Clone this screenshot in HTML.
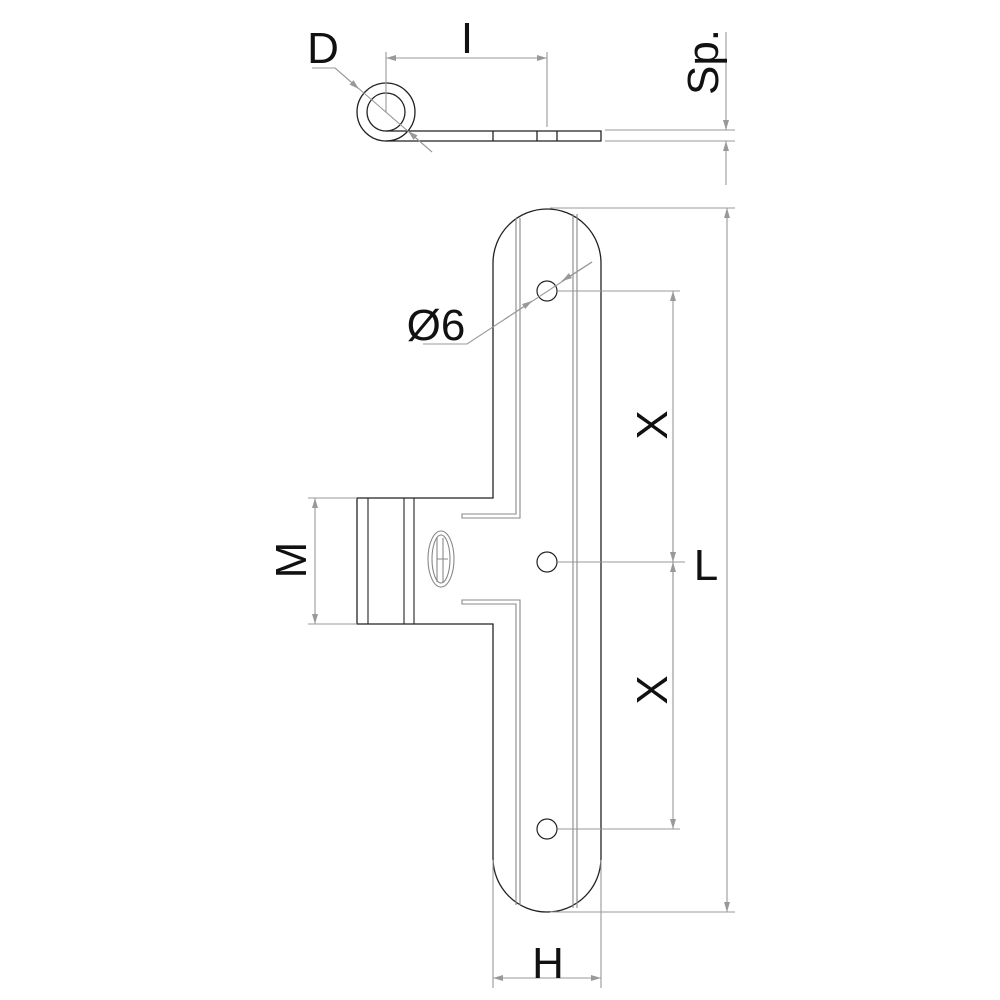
<!DOCTYPE html>
<html><head><style>body{margin:0;background:#fff}svg{display:block}</style></head><body>
<svg width="1000" height="1000" viewBox="0 0 1000 1000" xmlns="http://www.w3.org/2000/svg">
<defs>
<marker id="a" viewBox="0 0 10 6" refX="10" refY="3" markerWidth="14" markerHeight="6" markerUnits="userSpaceOnUse" orient="auto-start-reverse"><path d="M0,0L10,3L0,6z" fill="#999"/></marker>
</defs>
<g fill="none" stroke="#222" stroke-width="1.3">
<circle cx="386" cy="112" r="29"/>
<circle cx="386" cy="112" r="19"/>
<path d="M386,131H601V141H386"/>
<path d="M493,131V141M537,131V141M557,131V141"/>
<path d="M493,498V263A54,54 0 0 1 601,263V858A54,54 0 0 1 493,858V624H357V498Z"/>
<path d="M368,498V624M404,498V624M414,498V624" stroke-width="1.1"/>
<circle cx="547" cy="291" r="10" stroke-width="1.2"/>
<circle cx="547" cy="562" r="10" stroke-width="1.2"/>
<circle cx="547" cy="829" r="10" stroke-width="1.2"/>
</g>
<g fill="none" stroke="#888" stroke-width="1.1">
<path d="M516,218V514H462V518H520V218"/>
<path d="M516,905V604H462V600H520V905"/>
<path d="M573,214V908M577,214V908"/>
<ellipse cx="441" cy="559" rx="13" ry="28"/>
<ellipse cx="441" cy="559" rx="9" ry="24"/>
<path d="M437,538V582M443,538V582M437,559H448"/>
</g>
<g fill="none" stroke="#999" stroke-width="1.1">
<path d="M386,52V112M547,52V127"/>
<path d="M386,58H547" marker-start="url(#a)" marker-end="url(#a)"/>
<path d="M605,130H735M605,141H735"/>
<path d="M726,32V130" marker-end="url(#a)"/>
<path d="M726,185V141" marker-end="url(#a)"/>
<path d="M312,68H335L432,152"/>
<path d="M335,68L359,89" marker-end="url(#a)"/>
<path d="M432,152L408,131" marker-end="url(#a)"/>
<path d="M423,344H467L592,262"/>
<path d="M505,319L532,301" marker-end="url(#a)"/>
<path d="M592,262L562,281" marker-end="url(#a)"/>
<path d="M558,291H680M558,562H685M558,829H680"/>
<path d="M673,291V562" marker-start="url(#a)"/>
<path d="M673,562V829" marker-end="url(#a)"/>
<path d="M673,440V562" marker-end="url(#a)"/>
<path d="M673,680V562" marker-end="url(#a)"/>
<path d="M550,208H735M550,912H735"/>
<path d="M727,560V208" marker-end="url(#a)"/>
<path d="M727,560V912" marker-end="url(#a)"/>
<path d="M308,498H357M308,624H357"/>
<path d="M315,560V498" marker-end="url(#a)"/>
<path d="M315,560V624" marker-end="url(#a)"/>
<path d="M493,860V988M601,860V988"/>
<path d="M547,978H493" marker-end="url(#a)"/>
<path d="M547,978H601" marker-end="url(#a)"/>
</g>
<g font-family="Liberation Sans, sans-serif" font-size="44" fill="#111" text-anchor="middle">
<text x="323" y="63">D</text>
<text x="467" y="53">I</text>
<text transform="translate(718,62) rotate(-90)">Sp.</text>
<text x="436" y="340">Ø6</text>
<text transform="translate(667,425) rotate(-90)">X</text>
<text transform="translate(667,690) rotate(-90)">X</text>
<text x="706" y="580">L</text>
<text transform="translate(306,560) rotate(-90)">M</text>
<text x="548" y="978">H</text>
</g>
</svg>
</body></html>
